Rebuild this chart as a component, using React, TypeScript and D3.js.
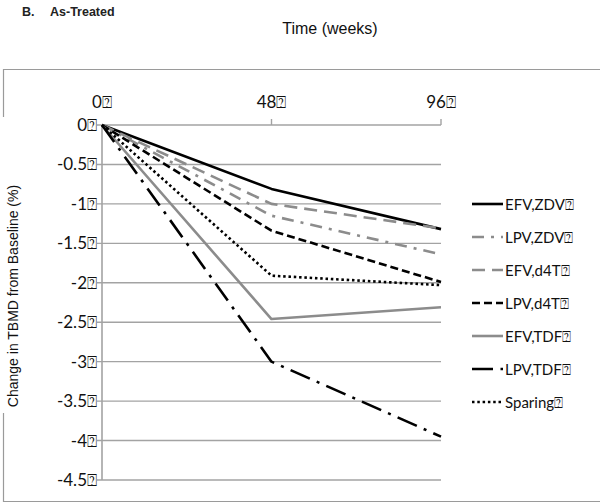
import React from "react";
import * as d3 from "d3";

const weeks = [0, 48, 96];
const xTickLabels = ["0", "48", "96"];
const yTicks = [0, -0.5, -1, -1.5, -2, -2.5, -3, -3.5, -4, -4.5];

const seriesNames = ["EFV,ZDV", "LPV,ZDV", "EFV,d4T", "LPV,d4T", "EFV,TDF", "LPV,TDF", "Sparing"];
const efvZdv = [0, -0.81, -1.32];
const lpvZdv = [0, -1.15, -1.64];
const efvD4t = [0, -1.0, -1.31];
const lpvD4t = [0, -1.34, -1.99];
const efvTdf = [0, -2.46, -2.31];
const lpvTdf = [0, -3.0, -3.95];
const sparing = [0, -1.91, -2.03];
const seriesValues = [efvZdv, lpvZdv, efvD4t, lpvD4t, efvTdf, lpvTdf, sparing];

const GRAY = "#8c8c8c";
const styles = [
  { color: "#000", dash: "none" },
  { color: GRAY, dash: "12 7 3 7" },
  { color: GRAY, dash: "13 7" },
  { color: "#000", dash: "8 4" },
  { color: GRAY, dash: "none" },
  { color: "#000", dash: "21 7.5 3 7.5" },
  { color: "#000", dash: "2.5 2.8" },
];

const BOX = "\u2370";

export default function App() {
  const x = d3.scaleLinear().domain([0, 96]).range([102, 441]);
  const y = d3.scaleLinear().domain([0, -4.5]).range([125, 480]);
  const line = d3
    .line<number>()
    .x((_, i) => x(weeks[i]))
    .y((d) => y(d));

  const tickFont = "Lato, 'Open Sans', sans-serif";
  const arial = "'Liberation Sans', Arial, sans-serif";

  return (
    <svg
      width={600}
      height={504}
      style={{ position: "absolute", left: 0, top: 0, background: "#fff" }}
    >
      <rect x={0} y={0} width={600} height={504} fill="#fff" />
      {/* title */}
      <text x={22} y={16} fontFamily={arial} fontWeight="bold" fontSize={12.5} fill="#222">
        B.
      </text>
      <text x={50} y={16} fontFamily={arial} fontWeight="bold" fontSize={12.5} fill="#222">
        As-Treated
      </text>
      <text x={330} y={34} textAnchor="middle" fontFamily={arial} fontSize={16} fill="#111">
        Time (weeks)
      </text>

      {/* outer frame */}
      <path
        d="M600,69.5 H3.5 V117 M3.5,413 V501.5 H600"
        fill="none"
        stroke="#9a9a9a"
        strokeWidth={1.2}
      />

      {/* gridlines and y ticks */}
      {yTicks.map((t) => (
        <g key={t}>
          <line
            x1={x(0) - 5}
            x2={x(96)}
            y1={y(t)}
            y2={y(t)}
            stroke="#a3a3a3"
            strokeWidth={t === 0 ? 1.6 : 1.4}
          />
          <text
            x={97}
            y={y(t) + 6}
            textAnchor="end"
            fontFamily={tickFont}
            fontSize={17}
            fill="#111"
          >
            {d3.format("")(t).replace("−", "-")}
            {BOX}
          </text>
        </g>
      ))}
      {/* y axis */}
      <line x1={x(0)} x2={x(0)} y1={y(0)} y2={y(-4.5)} stroke="#a3a3a3" strokeWidth={1.6} />
      {/* x ticks at top */}
      {weeks.map((w, i) => (
        <g key={w}>
          {i > 0 && (
            <line x1={x(w)} x2={x(w)} y1={y(0) - 6} y2={y(0)} stroke="#a3a3a3" strokeWidth={1.4} />
          )}
          <text
            x={x(w)}
            y={108}
            textAnchor="middle"
            fontFamily={tickFont}
            fontSize={17}
            fill="#111"
          >
            {xTickLabels[i]}
            {BOX}
          </text>
        </g>
      ))}

      {/* y label */}
      <text
        transform="translate(18,296) rotate(-90)"
        textAnchor="middle"
        fontFamily={arial}
        fontSize={14}
        fill="#111"
      >
        Change in TBMD from Baseline (%)
      </text>

      {/* series */}
      {seriesValues.map((vals, i) => (
        <path
          key={seriesNames[i]}
          d={line(vals) || ""}
          fill="none"
          stroke={styles[i].color}
          strokeWidth={2.6}
          strokeDasharray={styles[i].dash}
          strokeLinejoin="round"
        />
      ))}

      {/* legend */}
      {seriesNames.map((n, i) => {
        const ly = 204 + i * 33;
        return (
          <g key={n}>
            <line
              x1={472}
              x2={503}
              y1={ly}
              y2={ly}
              stroke={styles[i].color}
              strokeWidth={2.6}
              strokeDasharray={styles[i].dash}
            />
            <text x={505} y={ly + 5.5} fontFamily={tickFont} fontSize={15} fill="#111">
              {n}
              {BOX}
            </text>
          </g>
        );
      })}
    </svg>
  );
}
